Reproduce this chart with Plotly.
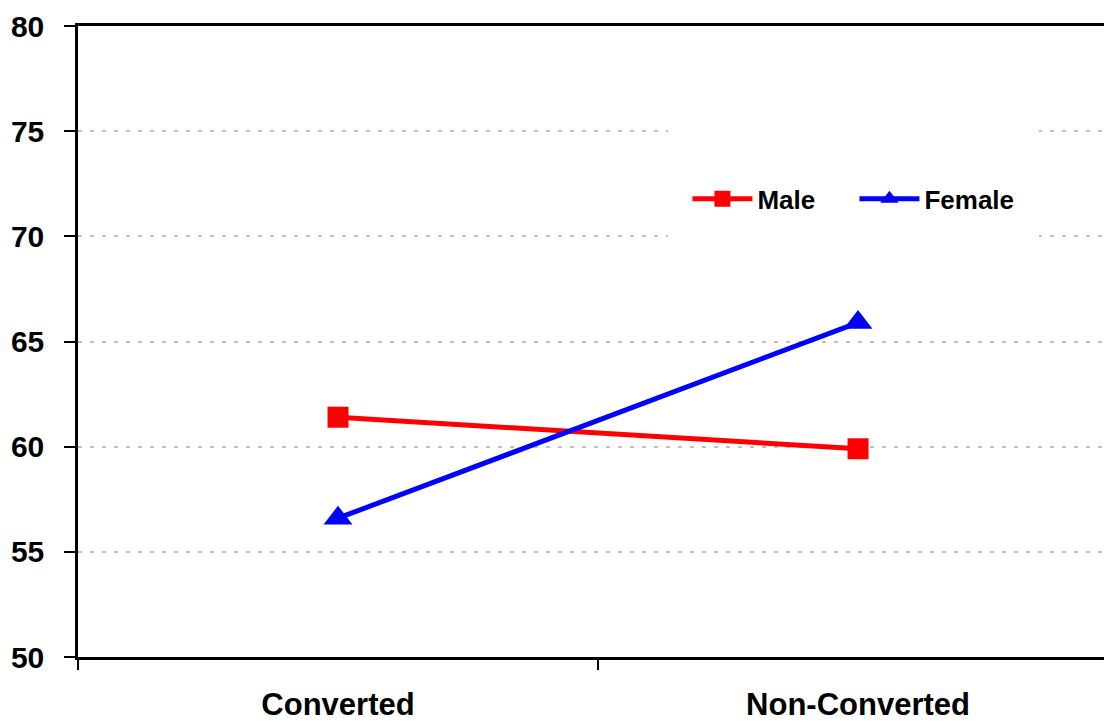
import plotly.graph_objects as go

# Category labels and mean scores per group
groups = ["Converted", "Non-Converted"]
male = [61.4, 59.9]
female = [56.6, 65.9]
y_ticks = [50, 55, 60, 65, 70, 75, 80]

FONT = "Liberation Sans, Arial, sans-serif"

fig = go.Figure()
fig.add_trace(go.Scatter(
    x=groups, y=male, name="Male", mode="lines+markers",
    line=dict(color="#ff0000", width=5),
    marker=dict(symbol="square", size=21, color="#ff0000"),
))
fig.add_trace(go.Scatter(
    x=groups, y=female, name="Female", mode="lines+markers",
    line=dict(color="#0000ff", width=5),
    marker=dict(symbol="triangle-up", size=25, color="#0000ff"),
))

fig.update_layout(
    width=1104, height=721,
    margin=dict(l=78, r=0, t=26, b=64),
    paper_bgcolor="white", plot_bgcolor="white",
    font=dict(family=FONT, color="black"),
    showlegend=True,
    legend=dict(
        orientation="h", x=0.594, y=0.726, xanchor="left", yanchor="middle",
        bgcolor="rgba(0,0,0,0)", font=dict(size=26, family=FONT, weight="bold"),
        itemwidth=60, entrywidth=92,
    ),
)

fig.update_xaxes(
    type="category", range=[-0.5, 1.473],
    showgrid=False, showline=True, linecolor="black", linewidth=3,
    mirror=True, ticks="outside", tickson="boundaries", ticklen=10,
    tickwidth=2, tickcolor="black",
    tickfont=dict(size=31, family=FONT, weight="bold"),
    ticklabelstandoff=18,
)
fig.update_yaxes(
    range=[50, 80], tickvals=y_ticks,
    showgrid=True, gridcolor="#c0c0c0", gridwidth=2, griddash="4px,8px",
    showline=True, linecolor="black", linewidth=2.5,
    ticks="outside", ticklen=11, tickwidth=2, tickcolor="black",
    tickfont=dict(size=30, family=FONT, weight="bold"),
    ticklabelstandoff=14, zeroline=False,
)

# White panel behind the legend, hiding the grid there
fig.add_shape(
    type="rect", xref="paper", yref="y",
    x0=(668 - 78) / 1026, x1=(1039 - 78) / 1026, y0=66.5, y1=78.5,
    fillcolor="white", line=dict(width=0), layer="above",
)

fig.write_html("out.html")
